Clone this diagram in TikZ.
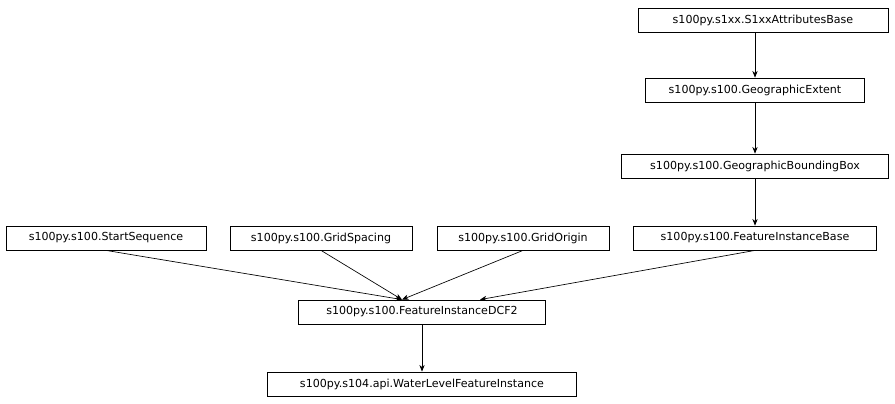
\documentclass[tikz,border=0pt]{standalone}
\usepackage{fontspec}
\setmainfont{DejaVu Sans}
\usetikzlibrary{arrows.meta}
\begin{document}
\begin{tikzpicture}[x=0.75pt,y=-0.75pt,
  cls/.style={draw, line width=0.6pt, minimum height=24*0.75pt, inner sep=0pt, font=\fontsize{8.3pt}{10pt}\selectfont},
  inh/.style={-{Stealth[length=5pt,width=4pt]}, line width=0.5pt}]

\useasboundingbox (0,0) rectangle (895,403);

% Classes
\node[cls, minimum width=250*0.75pt] (attr) at (763,20) {s100py.s1xx.S1xxAttributesBase};
\node[cls, minimum width=219*0.75pt] (extent) at (755,90) {s100py.s100.GeographicExtent};
\node[cls, minimum width=267*0.75pt] (bbox) at (755,166) {s100py.s100.GeographicBoundingBox};
\node[cls, minimum width=243*0.75pt] (fibase) at (755,238) {s100py.s100.FeatureInstanceBase};
\node[cls, minimum width=200*0.75pt] (start) at (106,238) {s100py.s100.StartSequence};
\node[cls, minimum width=182*0.75pt] (spacing) at (321,238) {s100py.s100.GridSpacing};
\node[cls, minimum width=172*0.75pt] (origin) at (523,238) {s100py.s100.GridOrigin};
\node[cls, minimum width=247*0.75pt] (dcf2) at (422,312) {s100py.s100.FeatureInstanceDCF2};
\node[cls, minimum width=309*0.75pt] (water) at (422,384) {s100py.s104.api.WaterLevelFeatureInstance};

% Inheritance
\draw[inh] (attr.south -| extent) -- (extent.north);
\draw[inh] (extent) -- (bbox);
\draw[inh] (bbox) -- (fibase);
\draw[inh] (start.south) -- ([xshift=-20*0.75pt]dcf2.north);
\draw[inh] (spacing.south) -- ([xshift=-20*0.75pt]dcf2.north);
\draw[inh] (origin.south) -- ([xshift=-20*0.75pt]dcf2.north);
\draw[inh] (fibase.south) -- ([xshift=58*0.75pt]dcf2.north);
\draw[inh] (dcf2) -- (water);

\end{tikzpicture}
\end{document}
